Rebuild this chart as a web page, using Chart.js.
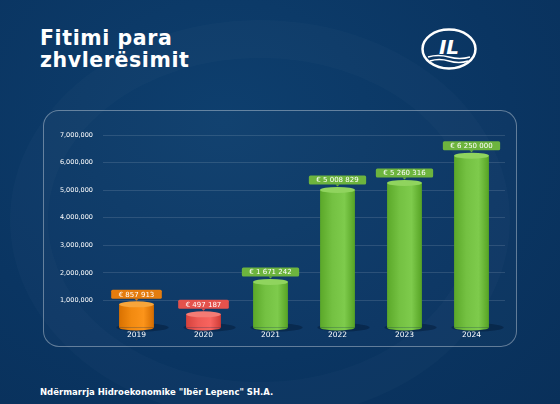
<!DOCTYPE html>
<html lang="sq">
<head>
<meta charset="UTF-8">
<title>Fitimi para zhvlerësimit</title>
<script src="https://cdn.jsdelivr.net/npm/chart.js"></script>
<style>
  html, body { margin: 0; padding: 0; }
  body {
    width: 560px; height: 404px; overflow: hidden; position: relative;
    background: radial-gradient(ellipse at 40% 30%, #0e3f6e 0%, #0a3562 60%, #09305a 100%);
    font-family: "DejaVu Sans", Arial, sans-serif;
  }
  .watermark {
    position: absolute; left: 10px; top: 20px; width: 500px; height: 400px;
    border-radius: 50%; border: 38px solid rgba(255,255,255,0.018);
    box-sizing: border-box;
  }
  .title {
    position: absolute; left: 40px; top: 27px; color: #fff;
    font-weight: 700; font-size: 20.5px; line-height: 22px; letter-spacing: 0.6px;
  }
  .panel {
    position: absolute; left: 43px; top: 110px; width: 474px; height: 237px;
    box-sizing: border-box; border: 1px solid rgba(255,255,255,0.35);
    border-radius: 16px; background: rgba(255,255,255,0.02);
  }
  .footer {
    position: absolute; left: 40px; top: 387px; color: #fff;
    font-size: 8.5px; font-weight: 600;
  }
  canvas { position: absolute; left: 0; top: 0; }
  svg { position: absolute; left: 420px; top: 27px; }
</style>
</head>
<body>
<div class="watermark"></div>
<div class="title">Fitimi para<br>zhvlerësimit</div>
<svg width="58" height="44" viewBox="0 0 58 44">
  <ellipse cx="29" cy="22" rx="26.5" ry="19.5" fill="none" stroke="#fff" stroke-width="2.5"/>
  <text x="29" y="27" text-anchor="middle" fill="#fff" font-family="DejaVu Sans" font-weight="bold" font-style="italic" font-size="20">IL</text>
  <path d="M8 30 Q18 27 29 30 T50 30" fill="none" stroke="#fff" stroke-width="1.6"/>
  <path d="M10 34 Q19 31 29 34 T48 34" fill="none" stroke="#fff" stroke-width="1.4"/>
</svg>
<div class="panel"></div>
<div class="footer">Ndërmarrja Hidroekonomike "Ibër Lepenc" SH.A.</div>
<canvas id="chart" width="560" height="404"></canvas>
<script>
const years = ['2019', '2020', '2021', '2022', '2023', '2024'];
const profit = [857913, 497187, 1671242, 5008829, 5260316, 6250000];
const valueLabels = ['€ 857 913', '€ 497 187', '€ 1 671 242', '€ 5 008 829', '€ 5 260 316', '€ 6 250 000'];
const barColors = ['#f28a10', '#ee5a55', '#74c142', '#74c142', '#74c142', '#74c142'];
const topColors = ['#f7a53a', '#f47b74', '#90d45e', '#90d45e', '#90d45e', '#90d45e'];
const labelColors = ['#e47c0e', '#e4524c', '#6db43e', '#6db43e', '#6db43e', '#6db43e'];

const FONT = '"DejaVu Sans", Arial, sans-serif';

function shade(hex, amt) {
  const n = parseInt(hex.slice(1), 16);
  let r = (n >> 16) + amt, g = ((n >> 8) & 255) + amt, b = (n & 255) + amt;
  r = Math.max(0, Math.min(255, r)); g = Math.max(0, Math.min(255, g)); b = Math.max(0, Math.min(255, b));
  return `rgb(${r},${g},${b})`;
}

const cylinderPlugin = {
  id: 'cylinder',
  beforeDatasetsDraw(chart) {
    // horizontal gradient on each bar so it looks round
    const meta = chart.getDatasetMeta(0);
    const ctx = chart.ctx;
    meta.data.forEach((bar, i) => {
      const x0 = bar.x - bar.width / 2, x1 = bar.x + bar.width / 2;
      const g = ctx.createLinearGradient(x0, 0, x1, 0);
      g.addColorStop(0, shade(barColors[i], -25));
      g.addColorStop(0.35, barColors[i]);
      g.addColorStop(0.7, shade(barColors[i], 10));
      g.addColorStop(1, shade(barColors[i], -30));
      bar.options.backgroundColor = g;
      // shadow under bar
      ctx.save();
      ctx.fillStyle = 'rgba(0,20,45,0.4)';
      ctx.beginPath();
      ctx.ellipse(bar.x + 6, bar.base, bar.width * 0.75, 4, 0, 0, Math.PI * 2);
      ctx.fill();
      ctx.restore();
    });
  },
  afterDatasetsDraw(chart) {
    const meta = chart.getDatasetMeta(0);
    const ctx = chart.ctx;
    meta.data.forEach((bar, i) => {
      const rx = bar.width / 2, ry = 3;
      // bottom rounded edge
      ctx.save();
      ctx.fillStyle = bar.options.backgroundColor;
      ctx.beginPath();
      ctx.ellipse(bar.x, bar.base, rx, ry, 0, 0, Math.PI);
      ctx.fill();
      // top face
      ctx.fillStyle = topColors[i];
      ctx.beginPath();
      ctx.ellipse(bar.x, bar.y, rx, ry, 0, 0, Math.PI * 2);
      ctx.fill();
      // value label
      ctx.font = '7px ' + FONT;
      const tw = ctx.measureText(valueLabels[i]).width;
      const w = tw + 15, h = 9;
      const cy = bar.y - 10;
      ctx.fillStyle = labelColors[i];
      ctx.beginPath();
      ctx.roundRect(bar.x - w / 2, cy - h / 2, w, h, 1.5);
      ctx.fill();
      ctx.beginPath();
      ctx.moveTo(bar.x - 2, cy + h / 2);
      ctx.lineTo(bar.x + 2, cy + h / 2);
      ctx.lineTo(bar.x, cy + h / 2 + 2);
      ctx.fill();
      ctx.fillStyle = '#ffffff';
      ctx.textAlign = 'center';
      ctx.textBaseline = 'middle';
      ctx.fillText(valueLabels[i], bar.x, cy + 0.5);
      ctx.restore();
    });
  }
};

new Chart(document.getElementById('chart'), {
  type: 'bar',
  data: {
    labels: years,
    datasets: [{
      data: profit,
      backgroundColor: barColors,
      borderWidth: 0,
      barPercentage: 0.52,
      categoryPercentage: 1
    }]
  },
  options: {
    responsive: false,
    animation: false,
    events: [],
    layout: { padding: { left: 53, right: 55, top: 135, bottom: 60 } },
    plugins: { legend: { display: false }, tooltip: { enabled: false } },
    scales: {
      x: {
        grid: { display: false, drawTicks: false },
        border: { display: false },
        ticks: { color: '#ffffff', padding: 3, font: { size: 7.5, family: FONT } },
        afterFit(scale) { scale.height = 16; }
      },
      y: {
        min: 0,
        max: 7000000,
        grid: {
          drawTicks: false,
          color: ctx => ctx.tick && ctx.tick.value === 0 ? 'rgba(0,0,0,0)' : 'rgba(255,255,255,0.12)',
          lineWidth: 1
        },
        border: { display: false },
        ticks: {
          stepSize: 1000000,
          padding: 10,
          color: '#ffffff',
          font: { size: 6.5, family: FONT },
          callback: v => v === 0 ? '' : v.toLocaleString('en-US')
        },
        afterFit(scale) { scale.width = 50; }
      }
    }
  },
  plugins: [cylinderPlugin]
});
</script>
</body>
</html>
